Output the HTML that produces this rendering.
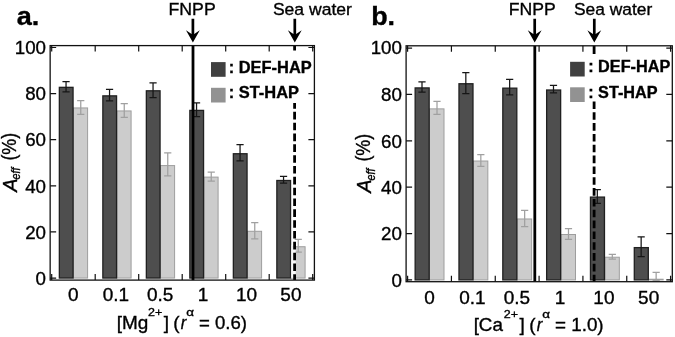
<!DOCTYPE html>
<html lang="en"><head><meta charset="utf-8"><title>Figure</title>
<style>html,body{margin:0;padding:0;background:#fff;overflow:hidden}svg{display:block;will-change:transform;filter:blur(.4px)}text{stroke:#000;stroke-width:.34px}</style></head>
<body>
<svg width="675" height="337" viewBox="0 0 675 337" font-family='"Liberation Sans", sans-serif' fill="#000">
<rect width="675" height="337" fill="#fff"/>
<rect x="73.40" y="107.94" width="14.20" height="170.11" fill="#cccccc" stroke="#9e9e9e" stroke-width="1.0"/>
<rect x="59.35" y="87.34" width="13.70" height="190.71" fill="#4e4e4e" stroke="#202020" stroke-width="1.3"/>
<rect x="116.90" y="110.94" width="14.20" height="167.11" fill="#cccccc" stroke="#9e9e9e" stroke-width="1.0"/>
<rect x="102.85" y="95.87" width="13.70" height="182.18" fill="#4e4e4e" stroke="#202020" stroke-width="1.3"/>
<rect x="160.40" y="165.58" width="14.20" height="112.47" fill="#cccccc" stroke="#9e9e9e" stroke-width="1.0"/>
<rect x="146.35" y="90.80" width="13.70" height="187.25" fill="#4e4e4e" stroke="#202020" stroke-width="1.3"/>
<rect x="203.90" y="177.11" width="14.20" height="100.94" fill="#cccccc" stroke="#9e9e9e" stroke-width="1.0"/>
<rect x="189.85" y="110.40" width="13.70" height="167.65" fill="#4e4e4e" stroke="#202020" stroke-width="1.3"/>
<rect x="247.40" y="231.29" width="14.20" height="46.76" fill="#cccccc" stroke="#9e9e9e" stroke-width="1.0"/>
<rect x="233.35" y="153.74" width="13.70" height="124.31" fill="#4e4e4e" stroke="#202020" stroke-width="1.3"/>
<rect x="290.90" y="246.73" width="14.20" height="31.32" fill="#cccccc" stroke="#9e9e9e" stroke-width="1.0"/>
<rect x="276.85" y="180.49" width="13.70" height="97.56" fill="#4e4e4e" stroke="#202020" stroke-width="1.3"/>
<path d="M80.75 100.53V114.36M77.15 100.53h7.20M77.15 114.36h7.20" stroke="#a0a0a0" stroke-width="1.25" fill="none"/>
<path d="M66.05 81.62V91.77M62.45 81.62h7.20M62.45 91.77h7.20" stroke="#161616" stroke-width="1.25" fill="none"/>
<path d="M124.25 103.52V117.36M120.65 103.52h7.20M120.65 117.36h7.20" stroke="#a0a0a0" stroke-width="1.25" fill="none"/>
<path d="M109.55 89.46V100.99M105.95 89.46h7.20M105.95 100.99h7.20" stroke="#161616" stroke-width="1.25" fill="none"/>
<path d="M167.75 152.86V175.92M164.15 152.86h7.20M164.15 175.92h7.20" stroke="#a0a0a0" stroke-width="1.25" fill="none"/>
<path d="M153.05 82.77V97.53M149.45 82.77h7.20M149.45 97.53h7.20" stroke="#161616" stroke-width="1.25" fill="none"/>
<path d="M211.25 172.00V181.22M207.65 172.00h7.20M207.65 181.22h7.20" stroke="#a0a0a0" stroke-width="1.25" fill="none"/>
<path d="M196.55 102.83V116.67M192.95 102.83h7.20M192.95 116.67h7.20" stroke="#161616" stroke-width="1.25" fill="none"/>
<path d="M254.75 222.72V238.86M251.15 222.72h7.20M251.15 238.86h7.20" stroke="#a0a0a0" stroke-width="1.25" fill="none"/>
<path d="M240.05 144.56V160.93M236.45 144.56h7.20M236.45 160.93h7.20" stroke="#161616" stroke-width="1.25" fill="none"/>
<path d="M298.25 239.32V252.00M294.65 239.32h7.20M294.65 252.00h7.20" stroke="#a0a0a0" stroke-width="1.25" fill="none"/>
<path d="M283.55 176.49V183.18M279.95 176.49h7.20M279.95 183.18h7.20" stroke="#161616" stroke-width="1.25" fill="none"/>
<line x1="193.0" y1="45.6" x2="193.0" y2="280.1" stroke="#000" stroke-width="2.8"/>
<rect x="291.1" y="245.5" width="4.6" height="32.4" fill="#fff" fill-opacity="0.85"/>
<path d="M294.6 45.6V50.6M294.6 102.90V108.64M294.6 111.87V119.47M294.6 122.70V130.30M294.6 133.53V141.13M294.6 144.36V151.96M294.6 155.19V162.79M294.6 166.02V173.62M294.6 176.85V184.45M294.6 187.68V195.28M294.6 198.51V206.11M294.6 209.34V216.94M294.6 220.17V227.77M294.6 231.00V238.60M294.6 241.83V249.43M294.6 252.66V260.26M294.6 263.49V271.09M294.6 274.32V280.10" stroke="#000" stroke-width="2.8" fill="none"/>
<rect x="211" y="62.1" width="14.6" height="14.7" fill="#404040"/>
<rect x="211" y="87.8" width="14.6" height="14.7" fill="#929292"/>
<text transform="translate(228.74 72.60) scale(1.0140 1)" font-size="16.2" font-weight="bold">: DEF-HAP</text>
<text transform="translate(228.74 98.40) scale(1.0150 1)" font-size="16.2" font-weight="bold">: ST-HAP</text>
<path d="M51.70 45.60v6.0M51.70 280.10v-6.0M95.20 45.60v6.0M95.20 280.10v-6.0M138.70 45.60v6.0M138.70 280.10v-6.0M182.20 45.60v6.0M182.20 280.10v-6.0M225.70 45.60v6.0M225.70 280.10v-6.0M269.20 45.60v6.0M269.20 280.10v-6.0M312.70 45.60v6.0M312.70 280.10v-6.0M50.15 278.05h6.0M314.40 278.05h-6.0M50.15 231.94h6.0M314.40 231.94h-6.0M50.15 185.83h6.0M314.40 185.83h-6.0M50.15 139.72h6.0M314.40 139.72h-6.0M50.15 93.61h6.0M314.40 93.61h-6.0M50.15 47.50h6.0M314.40 47.50h-6.0" stroke="#111" stroke-width="1.2" fill="none"/>
<rect x="50.15" y="45.60" width="264.25" height="234.50" fill="none" stroke="#111" stroke-width="1.3"/>
<text transform="translate(35.56 285.15) scale(1.0400 1)" font-size="18">0</text>
<text transform="translate(25.17 238.64) scale(1.0400 1)" font-size="18">20</text>
<text transform="translate(25.17 192.53) scale(1.0400 1)" font-size="18">40</text>
<text transform="translate(25.17 146.42) scale(1.0400 1)" font-size="18">60</text>
<text transform="translate(25.17 100.31) scale(1.0400 1)" font-size="18">80</text>
<text transform="translate(14.74 53.70) scale(1.0400 1)" font-size="18">100</text>
<text transform="translate(68.11 301.40) scale(1.0550 1)" font-size="18">0</text>
<text transform="translate(102.77 301.40) scale(1.0550 1)" font-size="18">0.1</text>
<text transform="translate(146.90 301.40) scale(1.0550 1)" font-size="18">0.5</text>
<text transform="translate(197.77 301.40) scale(1.0550 1)" font-size="18">1</text>
<text transform="translate(235.90 301.40) scale(1.0550 1)" font-size="18">10</text>
<text transform="translate(280.34 301.40) scale(1.0550 1)" font-size="18">50</text>
<path d="M191.55 18.70H194.25V34.00L199.80 30.20L192.90 42.60L186.00 30.20L191.55 34.00Z" fill="#000"/>
<path d="M293.45 18.70H296.15V34.00L301.70 30.20L294.80 42.60L287.90 30.20L293.45 34.00Z" fill="#000"/>
<text transform="translate(168.54 14.60) scale(1.0721 1)" font-size="16.5">FNPP</text>
<text transform="translate(272.91 14.60) scale(1.0641 1)" font-size="16.5">Sea water</text>
<text transform="translate(16.69 25.30) scale(1.0702 1)" font-size="25.3" font-weight="bold">a.</text>
<text transform="translate(16.70 193.00) rotate(-90) translate(1.14 0.00) scale(1.0127 1)" font-size="19.6" font-style="italic">A</text>
<text transform="translate(16.70 193.00) rotate(-90) translate(13.55 3.60) scale(0.8254 1)" font-size="13" font-style="italic">eff</text>
<text transform="translate(16.70 193.00) rotate(-90) translate(32.38 -1.00) scale(0.9228 1)" font-size="19.4">(%)</text>
<text transform="translate(116.73 328.60) scale(1.0530 1)" font-size="18">[Mg</text>
<text transform="translate(147.97 315.90) scale(1.0593 1)" font-size="11.8">2+</text>
<text transform="translate(163.66 328.60) scale(1.0550 1)" font-size="18">]</text>
<text transform="translate(173.21 328.60) scale(1.0550 1)" font-size="18">(</text>
<text transform="translate(180.71 328.60) scale(0.9206 1)" font-size="18" font-style="italic">r</text>
<text transform="translate(186.23 316.20) scale(1.3399 1)" font-size="10">α</text>
<text transform="translate(198.97 328.60) scale(1.0336 1)" font-size="18">= 0.6)</text>
<rect x="429.50" y="108.87" width="14.50" height="171.03" fill="#cccccc" stroke="#9e9e9e" stroke-width="1.0"/>
<rect x="415.15" y="87.92" width="14.00" height="191.98" fill="#4e4e4e" stroke="#202020" stroke-width="1.3"/>
<rect x="473.33" y="161.02" width="14.50" height="118.88" fill="#cccccc" stroke="#9e9e9e" stroke-width="1.0"/>
<rect x="458.98" y="83.75" width="14.00" height="196.15" fill="#4e4e4e" stroke="#202020" stroke-width="1.3"/>
<rect x="517.16" y="218.97" width="14.50" height="60.93" fill="#cccccc" stroke="#9e9e9e" stroke-width="1.0"/>
<rect x="502.81" y="88.16" width="14.00" height="191.74" fill="#4e4e4e" stroke="#202020" stroke-width="1.3"/>
<rect x="560.99" y="234.50" width="14.50" height="45.40" fill="#cccccc" stroke="#9e9e9e" stroke-width="1.0"/>
<rect x="546.64" y="90.01" width="14.00" height="189.89" fill="#4e4e4e" stroke="#202020" stroke-width="1.3"/>
<rect x="604.82" y="257.22" width="14.50" height="22.68" fill="#cccccc" stroke="#9e9e9e" stroke-width="1.0"/>
<rect x="590.47" y="197.10" width="14.00" height="82.80" fill="#4e4e4e" stroke="#202020" stroke-width="1.3"/>
<rect x="648.65" y="279.24" width="14.50" height="0.66" fill="#cccccc" stroke="#9e9e9e" stroke-width="1.0"/>
<rect x="634.30" y="247.63" width="14.00" height="32.27" fill="#4e4e4e" stroke="#202020" stroke-width="1.3"/>
<path d="M437.00 101.41V114.39M433.40 101.41h7.20M433.40 114.39h7.20" stroke="#a0a0a0" stroke-width="1.25" fill="none"/>
<path d="M422.00 81.94V92.14M418.40 81.94h7.20M418.40 92.14h7.20" stroke="#161616" stroke-width="1.25" fill="none"/>
<path d="M480.83 154.73V166.32M477.23 154.73h7.20M477.23 166.32h7.20" stroke="#a0a0a0" stroke-width="1.25" fill="none"/>
<path d="M465.83 72.67V93.53M462.23 72.67h7.20M462.23 93.53h7.20" stroke="#161616" stroke-width="1.25" fill="none"/>
<path d="M524.66 210.36V226.59M521.06 210.36h7.20M521.06 226.59h7.20" stroke="#a0a0a0" stroke-width="1.25" fill="none"/>
<path d="M509.66 79.39V94.92M506.06 79.39h7.20M506.06 94.92h7.20" stroke="#161616" stroke-width="1.25" fill="none"/>
<path d="M568.49 228.67V239.33M564.89 228.67h7.20M564.89 239.33h7.20" stroke="#a0a0a0" stroke-width="1.25" fill="none"/>
<path d="M553.49 85.42V92.84M549.89 85.42h7.20M549.89 92.84h7.20" stroke="#161616" stroke-width="1.25" fill="none"/>
<path d="M612.32 254.40V259.04M608.72 254.40h7.20M608.72 259.04h7.20" stroke="#a0a0a0" stroke-width="1.25" fill="none"/>
<path d="M597.32 189.50V203.41M593.72 189.50h7.20M593.72 203.41h7.20" stroke="#161616" stroke-width="1.25" fill="none"/>
<path d="M656.15 272.25V280.60M652.55 272.25h7.20M652.55 280.60h7.20" stroke="#a0a0a0" stroke-width="1.25" fill="none"/>
<path d="M641.15 236.90V256.60M637.55 236.90h7.20M637.55 256.60h7.20" stroke="#161616" stroke-width="1.25" fill="none"/>
<line x1="534.8" y1="45.8" x2="534.8" y2="281.7" stroke="#000" stroke-width="2.8"/>
<path d="M594.1 45.8V53.9M594.1 101.60V109.02M594.1 112.25V119.85M594.1 123.08V130.68M594.1 133.91V141.51M594.1 144.74V152.34M594.1 155.57V163.17M594.1 166.40V174.00M594.1 177.23V184.83M594.1 188.06V195.66M594.1 198.89V206.49M594.1 209.72V217.32M594.1 220.55V228.15M594.1 231.38V238.98M594.1 242.21V249.81M594.1 253.04V260.64M594.1 263.87V271.47M594.1 274.70V281.70" stroke="#000" stroke-width="2.8" fill="none"/>
<rect x="570.1" y="61.8" width="14.6" height="14.7" fill="#404040"/>
<rect x="570.1" y="87.3" width="14.6" height="14.7" fill="#929292"/>
<text transform="translate(588.16 72.40) scale(1.0027 1)" font-size="16.2" font-weight="bold">: DEF-HAP</text>
<text transform="translate(588.16 98.30) scale(1.0016 1)" font-size="16.2" font-weight="bold">: ST-HAP</text>
<path d="M407.60 45.80v6.0M407.60 281.70v-6.0M451.43 45.80v6.0M451.43 281.70v-6.0M495.26 45.80v6.0M495.26 281.70v-6.0M539.09 45.80v6.0M539.09 281.70v-6.0M582.92 45.80v6.0M582.92 281.70v-6.0M626.75 45.80v6.0M626.75 281.70v-6.0M670.58 45.80v6.0M670.58 281.70v-6.0M406.10 279.90h6.0M672.30 279.90h-6.0M406.10 233.54h6.0M672.30 233.54h-6.0M406.10 187.18h6.0M672.30 187.18h-6.0M406.10 140.82h6.0M672.30 140.82h-6.0M406.10 94.46h6.0M672.30 94.46h-6.0M406.10 48.10h6.0M672.30 48.10h-6.0" stroke="#111" stroke-width="1.2" fill="none"/>
<rect x="406.10" y="45.80" width="266.20" height="235.90" fill="none" stroke="#111" stroke-width="1.3"/>
<text transform="translate(391.51 287.00) scale(1.0400 1)" font-size="18">0</text>
<text transform="translate(381.12 240.24) scale(1.0400 1)" font-size="18">20</text>
<text transform="translate(381.12 193.88) scale(1.0400 1)" font-size="18">40</text>
<text transform="translate(381.12 147.52) scale(1.0400 1)" font-size="18">60</text>
<text transform="translate(381.12 101.16) scale(1.0400 1)" font-size="18">80</text>
<text transform="translate(370.69 53.80) scale(1.0400 1)" font-size="18">100</text>
<text transform="translate(424.21 303.70) scale(1.0550 1)" font-size="18">0</text>
<text transform="translate(459.20 303.70) scale(1.0550 1)" font-size="18">0.1</text>
<text transform="translate(503.66 303.70) scale(1.0550 1)" font-size="18">0.5</text>
<text transform="translate(554.86 303.70) scale(1.0550 1)" font-size="18">1</text>
<text transform="translate(593.32 303.70) scale(1.0550 1)" font-size="18">10</text>
<text transform="translate(638.09 303.70) scale(1.0550 1)" font-size="18">50</text>
<path d="M533.35 18.70H536.05V34.00L541.60 30.20L534.70 42.60L527.80 30.20L533.35 34.00Z" fill="#000"/>
<path d="M592.95 18.70H595.65V34.00L601.20 30.20L594.30 42.60L587.40 30.20L592.95 34.00Z" fill="#000"/>
<text transform="translate(508.75 14.60) scale(1.0673 1)" font-size="16.5">FNPP</text>
<text transform="translate(573.92 14.60) scale(1.0559 1)" font-size="16.5">Sea water</text>
<text transform="translate(371.15 25.30) scale(1.0627 1)" font-size="25.3" font-weight="bold">b.</text>
<text transform="translate(371.00 194.00) rotate(-90) translate(1.14 0.00) scale(1.0127 1)" font-size="19.6" font-style="italic">A</text>
<text transform="translate(371.00 194.00) rotate(-90) translate(13.55 3.60) scale(0.8254 1)" font-size="13" font-style="italic">eff</text>
<text transform="translate(371.00 194.00) rotate(-90) translate(32.38 -1.00) scale(0.9228 1)" font-size="19.4">(%)</text>
<text transform="translate(473.64 330.75) scale(1.0455 1)" font-size="18">[Ca</text>
<text transform="translate(503.77 318.00) scale(1.0593 1)" font-size="11.8">2+</text>
<text transform="translate(519.46 330.75) scale(1.0550 1)" font-size="18">]</text>
<text transform="translate(529.21 330.75) scale(1.0550 1)" font-size="18">(</text>
<text transform="translate(536.66 330.75) scale(0.9286 1)" font-size="18" font-style="italic">r</text>
<text transform="translate(542.23 318.20) scale(1.3399 1)" font-size="10">α</text>
<text transform="translate(554.96 330.75) scale(1.0471 1)" font-size="18">= 1.0)</text>
</svg>
</body></html>
